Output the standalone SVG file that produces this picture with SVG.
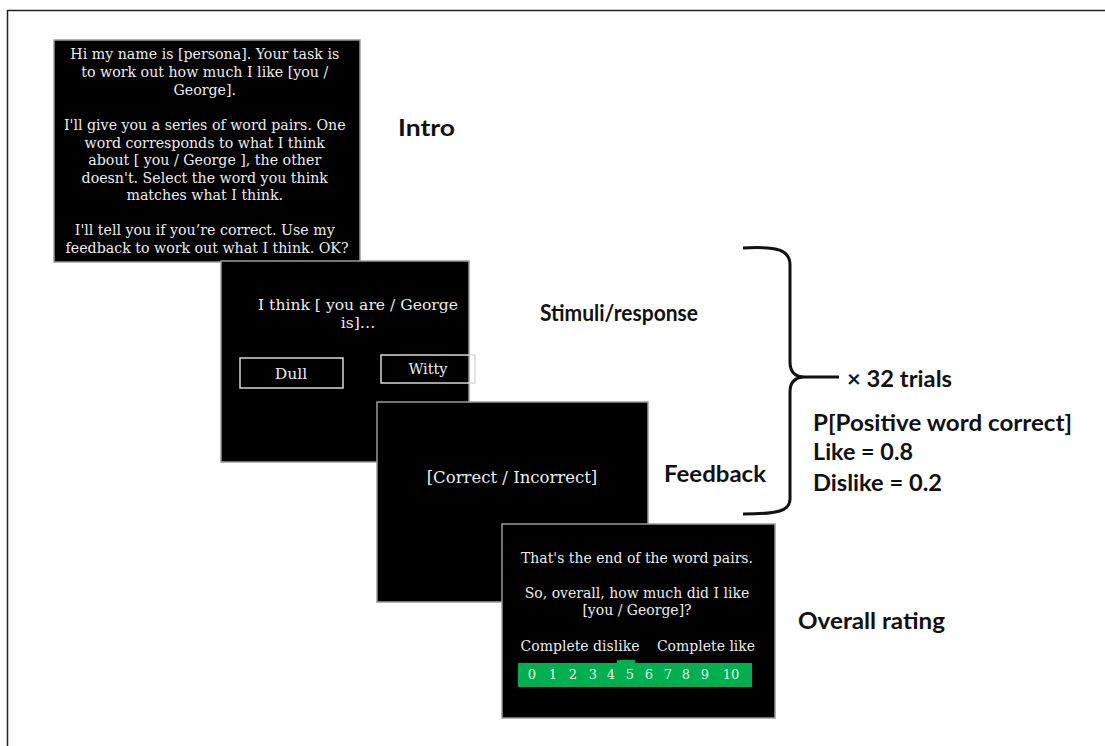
<svg xmlns="http://www.w3.org/2000/svg" width="1105" height="746" viewBox="0 0 1105 746">
<style>
.screen{fill:#000;stroke:#9a9a9a;stroke-width:1.5}
.st{font-family:"DejaVu Serif","Liberation Serif",serif;fill:#ececec;text-anchor:middle}
.lab{font-family:Lato,"Liberation Sans",sans-serif;font-weight:bold;fill:#111;font-size:23.5px}
.btn{fill:none;stroke:#d8d8d8;stroke-width:1.5}
.num{font-family:"DejaVu Serif","Liberation Serif",serif;fill:#eaf6ea;font-size:13px;text-anchor:middle}
</style>
<rect x="0" y="0" width="1105" height="746" fill="#fff"/>
<rect x="7.5" y="10.5" width="1120" height="760" fill="none" stroke="#222" stroke-width="1.5"/>

<g id="intro">
<rect class="screen" x="54" y="40" width="306" height="222"/>
<text class="st" font-size="14.2" x="207">
<tspan x="207" y="59">Hi my name is [persona]. Your task is</tspan>
<tspan x="207" y="77">to work out how much I like [you /</tspan>
<tspan x="207" y="95">George].</tspan>
<tspan x="207" y="130">I'll give you a series of word pairs. One</tspan>
<tspan x="207" y="147.5">word corresponds to what I think</tspan>
<tspan x="207" y="165">about [ you / George ], the other</tspan>
<tspan x="207" y="182.5">doesn't. Select the word you think</tspan>
<tspan x="207" y="200">matches what I think.</tspan>
<tspan x="207" y="235">I'll tell you if you’re correct. Use my</tspan>
<tspan x="207" y="253">feedback to work out what I think. OK?</tspan>
</text>
</g>

<g id="stimuli">
<rect class="screen" x="221" y="261" width="248" height="201"/>
<text class="st" font-size="15.6"><tspan x="358" y="310">I think [ you are / George</tspan><tspan x="358" y="328">is]…</tspan></text>
<rect class="btn" x="240" y="358" width="103" height="30"/>
<text class="st" font-size="15.6" x="291" y="379">Dull</text>
<rect class="btn" x="381" y="355" width="94" height="28"/>
<text class="st" font-size="14.5" x="428" y="374">Witty</text>
</g>

<g id="feedback">
<rect class="screen" x="377" y="402" width="271" height="200"/>
<text class="st" font-size="16.5" x="512" y="483">[Correct / Incorrect]</text>
</g>

<g id="rating">
<rect class="screen" x="502" y="524" width="273" height="194"/>
<text class="st" font-size="14" x="637" y="563">That's the end of the word pairs.</text>
<text class="st" font-size="14"><tspan x="637" y="598">So, overall, how much did I like</tspan><tspan x="637" y="615">[you / George]?</tspan></text>
<text class="st" font-size="14" x="580" y="651">Complete dislike</text>
<text class="st" font-size="14" x="706" y="651">Complete like</text>
<rect x="518" y="663" width="234" height="24" fill="#00b050"/>
<rect x="617" y="660" width="18" height="4" fill="#00b050"/>
<text class="num" y="679">
<tspan x="532">0</tspan><tspan x="553">1</tspan><tspan x="573">2</tspan><tspan x="593">3</tspan><tspan x="611">4</tspan><tspan x="630">5</tspan><tspan x="649">6</tspan><tspan x="668">7</tspan><tspan x="686">8</tspan><tspan x="705">9</tspan><tspan x="731">10</tspan>
</text>
</g>

<g id="labels">
<text class="lab" x="398" y="136" textLength="57" lengthAdjust="spacingAndGlyphs">Intro</text>
<text class="lab" x="540" y="321" textLength="158" lengthAdjust="spacingAndGlyphs">Stimuli/response</text>
<text class="lab" x="664" y="482" textLength="102" lengthAdjust="spacingAndGlyphs">Feedback</text>
<text class="lab" x="798" y="629" textLength="147" lengthAdjust="spacingAndGlyphs">Overall rating</text>
</g>

<g id="connectors">
<path d="M743,248 C778,246 790,250 790,265 L790,362 C790,373 796,377 805,377 C796,377 790,381 790,392 L790,499 C790,511 778,514 743,514" fill="none" stroke="#111" stroke-width="3"/>
<path d="M805,377 L839,377" fill="none" stroke="#111" stroke-width="3"/>
</g>

<g id="trials">
<text class="lab" x="847" y="387" textLength="105" lengthAdjust="spacingAndGlyphs">× 32 trials</text>
<text class="lab" x="813" y="431" textLength="259" lengthAdjust="spacingAndGlyphs">P[Positive word correct]</text>
<text class="lab" x="813" y="460" textLength="100" lengthAdjust="spacingAndGlyphs">Like = 0.8</text>
<text class="lab" x="813" y="491" textLength="129" lengthAdjust="spacingAndGlyphs">Dislike = 0.2</text>
</g>
</svg>
